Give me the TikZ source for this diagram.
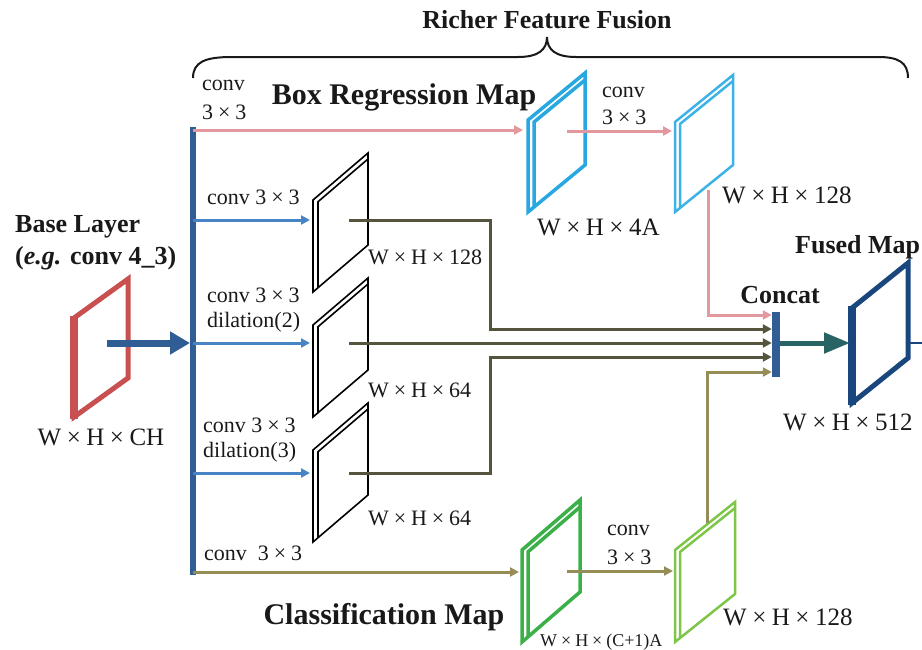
\documentclass[tikz,border=0pt]{standalone}
\usepackage{fontspec}
\setmainfont{Liberation Serif}
\usetikzlibrary{arrows.meta}
\definecolor{trunkblue}{RGB}{47,93,148}
\definecolor{branchblue}{RGB}{70,132,196}
\definecolor{pinkc}{RGB}{226,152,156}
\definecolor{basered}{RGB}{200,80,80}
\definecolor{cyanc}{RGB}{40,168,224}
\definecolor{cyanl}{RGB}{60,178,230}
\definecolor{darkol}{RGB}{85,84,60}
\definecolor{olive}{RGB}{150,140,85}
\definecolor{greend}{RGB}{60,176,72}
\definecolor{greenl}{RGB}{126,198,72}
\definecolor{navy}{RGB}{26,70,126}
\definecolor{tealc}{RGB}{40,100,100}
\definecolor{txt}{RGB}{25,25,25}
\newcommand\X{\kern.22em×\kern.22em}
\newcommand\mapface[6]{%
  \draw[#6] (#1,#2) -- ({#1+#3},{#2-#4}) -- ({#1+#3},{#2-#4+#5}) -- (#1,{#2+#5}) -- cycle;}
\newcommand\mapedge[7]{%
  \draw[#6] ({#1+#7},{#2+#5-#7*#4/#3}) -- ({#1+#7},{#2-#7*#4/#3+#7+1}) -- ({#1+#3},{#2-#4+#7+1});}
\tikzset{
  lbl/.style={inner sep=0pt, anchor=west, text=txt, font=\fontsize{22}{24}\selectfont},
  dim/.style={inner sep=0pt, anchor=west, text=txt, font=\fontsize{25}{27}\selectfont},
  sdim/.style={inner sep=0pt, anchor=west, text=txt, font=\fontsize{18}{20}\selectfont},
  ttl/.style={inner sep=0pt, text=txt, font=\bfseries\fontsize{26}{30}\selectfont},
  bigttl/.style={inner sep=0pt, text=txt, font=\bfseries\fontsize{30}{34}\selectfont},
  tip/.style={-{Triangle[length=9pt,width=9pt]}},
  conn/.style={line width=3pt},
}
\begin{document}
\begin{tikzpicture}[x=1pt,y=-1pt,line join=miter]
\useasboundingbox (0,0) rectangle (922,649);

% ---------- brace and title ----------
\coordinate (bl) at (193,78);
\coordinate (br) at (908,78);
\coordinate (btip) at (547,37);
\draw[line width=2pt, txt] (bl) .. controls (193,62) and (205,57) .. (232,57) -- (518,57)
   .. controls (538,57) and (547,50) .. (btip)
   .. controls (547,50) and (556,57) .. (576,57) -- (878,57)
   .. controls (898,57) and (908,62) .. (br);
\node[ttl] (title) at (547,20) {Richer Feature Fusion};

% ---------- maps ----------
% base layer
\mapface{74}{318}{54}{39}{99}{basered, line width=5pt}
\draw[basered, line width=8pt] (74,316) -- (74,419);
% box regression maps
\mapface{528}{120}{57}{47}{92}{cyanc, line width=3.5pt}
\mapedge{528}{120}{57}{47}{92}{cyanc, line width=3.5pt}{6}
\mapface{675}{122}{58}{47}{90}{cyanl, line width=2.5pt}
\mapedge{675}{122}{58}{47}{90}{cyanl, line width=2.5pt}{5}
% black maps
\mapface{313}{200}{55}{47}{92}{black, line width=1.6pt}
\mapedge{313}{200}{55}{47}{92}{black, line width=1.6pt}{5}
\mapface{313}{325}{55}{47}{92}{black, line width=1.6pt}
\mapedge{313}{325}{55}{47}{92}{black, line width=1.6pt}{5}
\mapface{313}{450}{55}{47}{92}{black, line width=1.6pt}
\mapedge{313}{450}{55}{47}{92}{black, line width=1.6pt}{5}
% classification maps
\mapface{522}{550}{58}{50}{92}{greend, line width=3.5pt}
\mapedge{522}{550}{58}{50}{92}{greend, line width=3.5pt}{6}
\mapface{675}{550}{60}{48}{92}{greenl, line width=2.5pt}
\mapedge{675}{550}{60}{48}{92}{greenl, line width=2.5pt}{5}
% fused map
\mapface{852}{308}{56}{45}{95}{navy, line width=5pt}
\draw[navy, line width=8pt] (852,306) -- (852,405);

% ---------- named points ----------
\coordinate (trunkTop) at (193,127);
\coordinate (trunkBot) at (193,575);
\coordinate (baseC) at (107,343);
\coordinate (trunkIn) at (190,343);
\coordinate (tP) at (193,130);
\coordinate (tB1) at (193,220);
\coordinate (tB2) at (193,343);
\coordinate (tB3) at (193,473);
\coordinate (tO) at (193,572);
\coordinate (box1In) at (523,130);
\coordinate (box1C) at (567,131);
\coordinate (box2In) at (672,131);
\coordinate (box2B) at (708,190);
\coordinate (m1In) at (310,220);
\coordinate (m2In) at (310,343);
\coordinate (m3In) at (310,473);
\coordinate (m1C) at (349,220);
\coordinate (m2C) at (349,343);
\coordinate (m3C) at (349,473);
\coordinate (g1In) at (519,572);
\coordinate (g1C) at (567,571);
\coordinate (g2In) at (673,571);
\coordinate (g2T) at (707,523);
\coordinate (fusedIn) at (850,343);
\coordinate (fusedR) at (908,343);
\coordinate (edgeR) at (922,343);
\node[fill=trunkblue, minimum width=8pt, minimum height=65pt, inner sep=0pt] (concat) at (776,344.5) {};

% ---------- connectors ----------
\draw[trunkblue, line width=6pt] (trunkTop) -- (trunkBot);
\draw[trunkblue, line width=7pt, -{Triangle[length=20pt,width=22pt]}] (baseC) -- (trunkIn);

\draw[pinkc, conn, tip] (tP) -- (box1In);
\draw[pinkc, conn, tip] (box1C) -- (box2In);
\draw[pinkc, conn, tip] (box2B) |- ([yshift=29.5pt]concat.west);

\draw[branchblue, conn, tip] (tB1) -- (m1In);
\draw[branchblue, conn, tip] (tB2) -- (m2In);
\draw[branchblue, conn, tip] (tB3) -- (m3In);

\draw[darkol, conn, tip] (m1C) -- (490,220) |- ([yshift=15.5pt]concat.west);
\draw[darkol, conn, tip] (m2C) -- ([yshift=1.5pt]concat.west);
\draw[darkol, conn, tip] (m3C) -- (490,473) |- ([yshift=-12.5pt]concat.west);

\draw[olive, conn, tip] (tO) -- (g1In);
\draw[olive, conn, tip] (g1C) -- (g2In);
\draw[olive, conn, tip] (g2T) |- ([yshift=-27.5pt]concat.west);

\draw[tealc, line width=5pt, -{Triangle[length=26pt,width=20pt]}] ([yshift=1.5pt]concat.east) -- (fusedIn);
\draw[navy, line width=2.5pt] (fusedR) -- (edgeR);

% ---------- labels ----------
\node[bigttl] (boxlbl) at (404,97) {Box Regression Map};
\node[bigttl] (clslbl) at (384,617) {Classification Map};
\node[ttl, anchor=west] (base1) at (15,227) {Base Layer};
\node[ttl, anchor=west] (base2) at (15,258) {(\textit{e.g.} conv 4\_3)};
\node[ttl] (concatlbl) at (780,295) {Concat};
\node[ttl, anchor=west] (fusedlbl) at (795,247) {Fused Map};

\node[dim, anchor=center] (dbase) at (101,437) {W\X H\X CH};
\node[dim] (dbox1) at (537,227) {W\X H\X 4A};
\node[dim] (dbox2) at (722,195) {W\X H\X 128};
\node[dim] (dfused) at (783,422) {W\X H\X 512};
\node[dim] (dg2) at (723,617) {W\X H\X 128};
\node[sdim] (dg1) at (540,642) {W\X H\X (C+1)A};
\node[lbl] (dm1) at (368,257) {W\X H\X 128};
\node[lbl] (dm2) at (368,390) {W\X H\X 64};
\node[lbl] (dm3) at (368,518) {W\X H\X 64};

\node[lbl] (c0a) at (202,85) {conv};
\node[lbl] (c0b) at (202,112) {3\X 3};
\node[lbl] (c1) at (207,197) {conv 3\X 3};
\node[lbl] (c2a) at (207,295) {conv 3\X 3};
\node[lbl] (c2b) at (207,322) {dilation(2)};
\node[lbl] (c3a) at (203,425) {conv 3\X 3};
\node[lbl] (c3b) at (203,452) {dilation(3)};
\node[lbl] (c4) at (204,553) {conv\ \ 3\X 3};
\node[lbl] (c5a) at (602,92) {conv};
\node[lbl] (c5b) at (602,117) {3\X 3};
\node[lbl] (c6a) at (607,530) {conv};
\node[lbl] (c6b) at (607,557) {3\X 3};
\end{tikzpicture}
\end{document}
